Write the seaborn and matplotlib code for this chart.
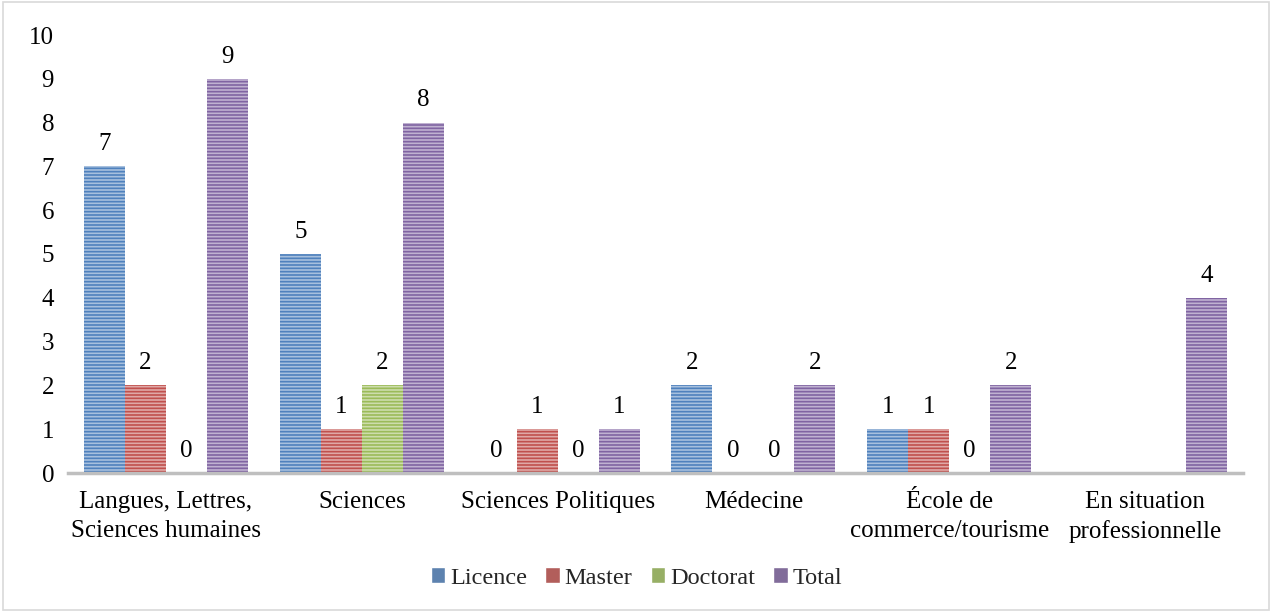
import numpy as np
import pandas as pd
import matplotlib
matplotlib.use("Agg")
import matplotlib.pyplot as plt
import seaborn as sns
from matplotlib.patches import Rectangle
from matplotlib.colors import to_rgb

# données
categories = ["Langues, Lettres,\nSciences humaines", "Sciences", "Sciences Politiques",
              "Médecine", "École de\ncommerce/tourisme", "En situation\nprofessionnelle"]
niveaux = ["Licence", "Master", "Doctorat", "Total"]
licence = [7, 5, 0, 2, 1, np.nan]
master = [2, 1, 1, 0, 1, np.nan]
doctorat = [0, 2, 0, 0, 0, np.nan]
total = [9, 8, 1, 2, 2, 4]

couleurs = ["#4F81BD", "#C0504D", "#9BBB59", "#8064A2"]

df = pd.DataFrame({"Licence": licence, "Master": master, "Doctorat": doctorat, "Total": total},
                  index=categories)
df = df.reset_index().rename(columns={"index": "Filière"})
long_df = df.melt("Filière", var_name="Niveau", value_name="Nombre")

sns.set_theme(style="white")
plt.rcParams['font.family'] = ['Liberation Serif', 'DejaVu Serif']
plt.rcParams['hatch.linewidth'] = 1.2

fig = plt.figure(figsize=(12.73, 6.12), dpi=100)
ax = fig.add_axes([68 / 1273, 1 - 473 / 612, (1243 - 68) / 1273, (473 - 35) / 612])

sns.barplot(data=long_df, x="Filière", y="Nombre", hue="Niveau", hue_order=niveaux,
            order=categories, palette=couleurs, width=0.837, gap=0, ax=ax)

# rayures horizontales
for cont, c in zip(ax.containers, couleurs):
    rgb = np.array(to_rgb(c))
    clair = rgb + (1 - rgb) * 0.5
    for bar in cont:
        bar.set_facecolor(clair)
        bar.set_edgecolor(c)
        bar.set_linewidth(0)
        bar.set_hatch("-----")
    labels = ["" if np.isnan(v) else "%g" % v for v in cont.datavalues]
    ax.bar_label(cont, labels=labels, padding=8, fontsize=18, color="black")

ax.set_ylim(0, 10)
ax.set_xlim(-0.5, 5.5)
ax.set_yticks(range(0, 11))
ax.set_xlabel("")
ax.set_ylabel("")
for s in ["top", "right", "left"]:
    ax.spines[s].set_visible(False)
ax.spines["bottom"].set_color("#BFBFBF")
ax.spines["bottom"].set_linewidth(2.5)
ax.tick_params(axis="y", length=0, pad=10, labelsize=18, labelcolor="black")
ax.tick_params(axis="x", length=0, pad=13, labelsize=18, labelcolor="black")
for t in ax.get_xticklabels():
    t.set_linespacing(1.4)

# légende
handles, labs = ax.get_legend_handles_labels()
ax.legend_.remove()
leg = fig.legend(handles, labs, loc="center", bbox_to_anchor=(0.5, 1 - 578 / 612), ncol=4,
                 frameon=False, fontsize=17.5, handlelength=0.6, handleheight=0.6,
                 handletextpad=0.2, columnspacing=0.75)

# cadre autour de la figure
fig.patches.append(Rectangle((0.002, 0.004), 0.995, 0.993, transform=fig.transFigure,
                             fill=False, edgecolor="#D9D9D9", linewidth=1.2))

fig.savefig("out.png", dpi=100)
